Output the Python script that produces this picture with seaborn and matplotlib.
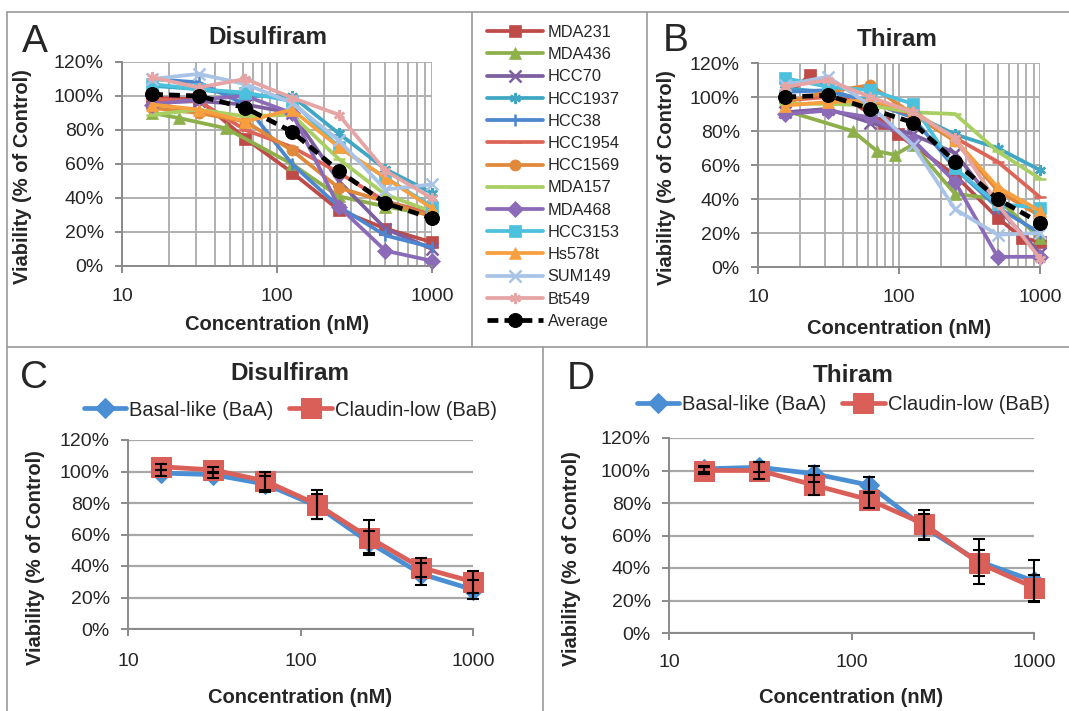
import numpy as np
import pandas as pd
import matplotlib
matplotlib.use("Agg")
import matplotlib.pyplot as plt
import seaborn as sns
from matplotlib.lines import Line2D
from matplotlib.ticker import FixedLocator, NullFormatter, FixedFormatter

# ---------------- data ----------------
conc = [15.625, 31.25, 62.5, 125, 250, 500, 1000]
x_major = [10, 100, 1000]
x_major_labels = ["10", "100", "1000"]
y_ticks = [0, 20, 40, 60, 80, 100, 120]
y_tick_labels = ["0%", "20%", "40%", "60%", "80%", "100%", "120%"]

cell_lines = ["MDA231", "MDA436", "HCC70", "HCC1937", "HCC38", "HCC1954", "HCC1569",
              "MDA157", "MDA468", "HCC3153", "Hs578t", "SUM149", "Bt549"]

# Panel A: Disulfiram (per cell line)
dsf_x_mda436 = [15.625, 23.4, 46.9, 125, 250, 500, 1000]
dsf_mda231 = [99, 98, 75, 55, 33, 22, 14]
dsf_mda436 = [90, 87, 81, 60, 41, 35, 30]
dsf_hcc70 = [96, 97, 95, 90, 50, 22, 10]
dsf_hcc1937 = [106, 104, 100, 100, 78, 57, 43]
dsf_hcc38 = [110, 108, 95, 60, 35, 18, 11]
dsf_hcc1954 = [98, 97, 80, 70, 55, 38, 31]
dsf_hcc1569 = [93, 90, 85, 68, 46, 38, 29]
dsf_mda157 = [89, 92, 88, 89, 63, 42, 32]
dsf_mda468 = [95, 98, 100, 90, 35, 9, 3]
dsf_hcc3153 = [107, 104, 102, 97, 70, 52, 35]
dsf_hs578t = [95, 92, 85, 92, 70, 52, 34]
dsf_sum149 = [110, 113, 107, 96, 74, 45, 48]
dsf_bt549 = [111, 105, 110, 99, 89, 56, 40]
dsf_average = [101, 100, 93, 79, 56, 37, 28]

# Panel B: Thiram (per cell line)
thi_x_mda231 = [15.625, 23.4, 78, 98, 250, 500, 750, 1000]
thi_x_mda436 = [15.625, 46.9, 70.3, 93.75, 125, 250, 500, 1000]
thi_mda231 = [100, 113, 85, 78, 54, 29, 17, 15]
thi_mda436 = [92, 80, 68, 66, 72, 43, 40, 17]
thi_hcc70 = [91, 93, 85, 78, 67, 35, 8]
thi_hcc1937 = [105, 103, 98, 90, 78, 70, 57]
thi_hcc38 = [103, 104, 97, 88, 58, 35, 20]
thi_hcc1954 = [98, 100, 96, 90, 76, 62, 41]
thi_hcc1569 = [97, 103, 107, 90, 74, 45, 30]
thi_mda157 = [96, 96, 95, 91, 90, 68, 52]
thi_mda468 = [90, 92, 88, 75, 50, 6, 6]
thi_hcc3153 = [111, 106, 104, 96, 58, 37, 35]
thi_hs578t = [95, 97, 98, 92, 75, 47, 33]
thi_sum149 = [107, 112, 95, 72, 34, 19, 20]
thi_bt549 = [106, 110, 100, 91, 76, 37, 5]
thi_average = [100, 101, 93, 85, 62, 40, 26]

# Panels C/D: subtype averages with error bars
group_names = ["Basal-like (BaA)", "Claudin-low (BaB)"]
dsf_basal = [99, 98, 92, 78, 55, 35, 25]
dsf_basal_err = [2, 2, 5, 8, 7, 7, 6]
dsf_claudin = [103, 101, 94, 79, 58, 39, 30]
dsf_claudin_err = [2, 2, 6, 9, 11, 6, 7]
thi_basal = [101, 102, 98, 91, 65, 44, 32]
thi_basal_err = [2, 3, 5, 5, 8, 14, 13]
thi_claudin = [100, 100, 91, 82, 67, 43, 28]
thi_claudin_err = [2, 5, 6, 5, 9, 8, 8]

# ---------------- styles ----------------
line_colors = ["#BE4B48", "#8DB04A", "#7D5FA0", "#3FA6C4", "#4C86CF", "#DC6558", "#E0893A",
               "#A9CF62", "#8B6BB8", "#4CC1DD", "#F8A040", "#A8C3E6", "#E6A4A4"]
line_markers = ["s", "^", "x", (6, 2, 0), "|", "_", "o", "_", "D", "s", "^", "x", (6, 2, 0)]

sns.set_theme(style="white")
plt.rcParams["font.family"] = ["Liberation Sans", "DejaVu Sans"]

W, H = 1069, 711
fig = plt.figure(figsize=(W / 100, H / 100), dpi=100)

FS_TICK = 14
FS_LAB = 14.5


def fx(x):
    return x / W


def fy(y):
    return 1 - y / H


def ax_rect(l, r, t, b):
    return [fx(l), fy(b), (r - l) / W, (b - t) / H]


GRID = "#b0b0b0"
AXC = "#8a8a8a"


def style_axes(ax, minor_grid, xlab_y, ylab_x, ylab_y, xpad):
    ax.set_xscale("log")
    ax.set_xlim(10, 1000)
    ax.set_ylim(0, 120)
    ax.xaxis.set_major_locator(FixedLocator(x_major))
    ax.xaxis.set_major_formatter(FixedFormatter(x_major_labels))
    minors = [v * d for d in (10, 100) for v in range(2, 10)]
    ax.xaxis.set_minor_locator(FixedLocator(minors))
    ax.xaxis.set_minor_formatter(NullFormatter())
    ax.set_yticks(y_ticks)
    ax.set_yticklabels(y_tick_labels)
    for s in ("top", "right"):
        ax.spines[s].set_visible(False)
    for s in ("left", "bottom"):
        ax.spines[s].set_color(AXC)
        ax.spines[s].set_linewidth(1.4)
    if minor_grid:
        ax.grid(which="both", axis="both", color=GRID, lw=1.4)
    else:
        ax.grid(which="major", axis="y", color="#a8a8a8", lw=1.6)
        ax.grid(which="both", axis="x", visible=False)
    ax.set_axisbelow(True)
    ax.tick_params(axis="x", which="major", length=5, width=1.4, color=AXC, pad=xpad,
                   labelsize=FS_TICK, bottom=True)
    ax.tick_params(axis="x", which="minor", length=0)
    ax.tick_params(axis="y", which="major", length=5, width=1.4, color=AXC, pad=8,
                   labelsize=FS_TICK, left=True)
    ax.set_xlabel("Concentration (nM)", fontsize=FS_LAB, fontweight="bold")
    ax.set_ylabel("Viability (% of Control)", fontsize=FS_LAB, fontweight="bold")
    ax.xaxis.set_label_coords(0.5, xlab_y)
    ax.yaxis.set_label_coords(ylab_x, ylab_y)
    ax.set_facecolor("white")


def draw_panel(ax, series, xs, avg):
    for name, vals, xv, col, mk in zip(cell_lines, series, xs, line_colors, line_markers):
        filled = mk in ("s", "^", "o", "D")
        sns.lineplot(x=xv, y=vals, ax=ax, color=col, lw=2.7, marker=mk, markersize=8,
                     markeredgewidth=1.8 if not filled else 0.5, markeredgecolor=col,
                     sort=False, estimator=None, clip_on=False, label=name, legend=False)
    sns.lineplot(x=conc, y=avg, ax=ax, color="black", lw=3.4, linestyle=(0, (2.3, 1.3)),
                 marker="o", markersize=10, markeredgecolor="black", sort=False,
                 estimator=None, clip_on=False, zorder=5, label="Average", legend=False)


# ---------------- Panel A ----------------
axA = fig.add_axes(ax_rect(122, 432, 62, 266))
dsf_series = [dsf_mda231, dsf_mda436, dsf_hcc70, dsf_hcc1937, dsf_hcc38, dsf_hcc1954,
              dsf_hcc1569, dsf_mda157, dsf_mda468, dsf_hcc3153, dsf_hs578t, dsf_sum149, dsf_bt549]
dsf_xs = [conc, dsf_x_mda436] + [conc] * 11
draw_panel(axA, dsf_series, dsf_xs, dsf_average)
style_axes(axA, True, -(315 - 266) / 204, -0.29, 0.44, 11)

# ---------------- Panel B ----------------
axB = fig.add_axes(ax_rect(758, 1040, 63, 267))
thi_series = [thi_mda231, thi_mda436, thi_hcc70, thi_hcc1937, thi_hcc38, thi_hcc1954,
              thi_hcc1569, thi_mda157, thi_mda468, thi_hcc3153, thi_hs578t, thi_sum149, thi_bt549]
thi_xs = [thi_x_mda231, thi_x_mda436] + [conc] * 11
draw_panel(axB, thi_series, thi_xs, thi_average)
style_axes(axB, True, -(319 - 267) / 204, -0.29, 0.44, 11)

# legend in the middle box
handles, labels = axA.get_legend_handles_labels()
fig.legend(handles, labels, loc="upper left", bbox_to_anchor=(fx(487), fy(25)),
           frameon=False, fontsize=11.8, handlelength=3.4, handletextpad=0.3,
           labelspacing=0.44, borderaxespad=0, borderpad=0)

# ---------------- Panels C & D ----------------
BLUE = "#4A8ED3"
RED = "#DA5F58"


def draw_group_panel(ax, basal, basal_err, claudin, claudin_err):
    sns.lineplot(x=conc, y=basal, ax=ax, color=BLUE, lw=3.4, marker="D", markersize=10,
                 markeredgecolor=BLUE, sort=False, estimator=None, clip_on=False,
                 label=group_names[0], legend=False)
    sns.lineplot(x=conc, y=claudin, ax=ax, color=RED, lw=3.4, marker="s", markersize=14,
                 markeredgecolor=RED, sort=False, estimator=None, clip_on=False,
                 label=group_names[1], legend=False)
    ax.errorbar(conc, basal, yerr=basal_err, fmt="none", ecolor="black", elinewidth=1.5,
                capsize=4, capthick=1.5, clip_on=False, zorder=6)
    ax.errorbar(conc, claudin, yerr=claudin_err, fmt="none", ecolor="black", elinewidth=1.5,
                capsize=4, capthick=1.5, clip_on=False, zorder=6)


axC = fig.add_axes(ax_rect(128, 473, 440, 629))
draw_group_panel(axC, dsf_basal, dsf_basal_err, dsf_claudin, dsf_claudin_err)
style_axes(axC, False, -(688 - 629) / 189, -0.24, 0.38, 12)
axC.legend(loc="center", bbox_to_anchor=(0.47, (629 - 410) / 189), ncol=2, frameon=False,
           fontsize=14.5, handlelength=2.1, handletextpad=0.15, columnspacing=0.8,
           borderaxespad=0, borderpad=0)

axD = fig.add_axes(ax_rect(669, 1034, 438, 633))
draw_group_panel(axD, thi_basal, thi_basal_err, thi_claudin, thi_claudin_err)
style_axes(axD, False, -(688 - 633) / 195, -0.24, 0.38, 10)
axD.legend(loc="center", bbox_to_anchor=(0.477, (633 - 405) / 195), ncol=2, frameon=False,
           fontsize=14.5, handlelength=2.1, handletextpad=0.15, columnspacing=0.8,
           borderaxespad=0, borderpad=0)

# ---------------- titles & letters ----------------
fig.text(fx(268), fy(37), "Disulfiram", ha="center", va="center", fontsize=17.5, fontweight="bold")
fig.text(fx(897), fy(40), "Thiram", ha="center", va="center", fontsize=17.5, fontweight="bold")
fig.text(fx(290), fy(373), "Disulfiram", ha="center", va="center", fontsize=17.5, fontweight="bold")
fig.text(fx(853), fy(375), "Thiram", ha="center", va="center", fontsize=17.5, fontweight="bold")
for letter, (lx, ly) in zip("ABCD", [(35, 42), (676, 41), (34, 378), (581, 379)]):
    fig.text(fx(lx), fy(ly), letter, ha="center", va="center", fontsize=28)

# ---------------- panel borders ----------------
BOX = "#9a9a9a"
segments = [
    ((7, 12), (1069, 12)),
    ((7, 347), (1069, 347)),
    ((7, 12), (7, 711)),
    ((472, 12), (472, 347)),
    ((647, 12), (647, 347)),
    ((543, 347), (543, 711)),
]
for (x0, y0), (x1, y1) in segments:
    fig.add_artist(Line2D([fx(x0), fx(x1)], [fy(y0), fy(y1)], color=BOX, lw=1.2,
                          transform=fig.transFigure))

fig.savefig("out.png", dpi=100, facecolor="white")
